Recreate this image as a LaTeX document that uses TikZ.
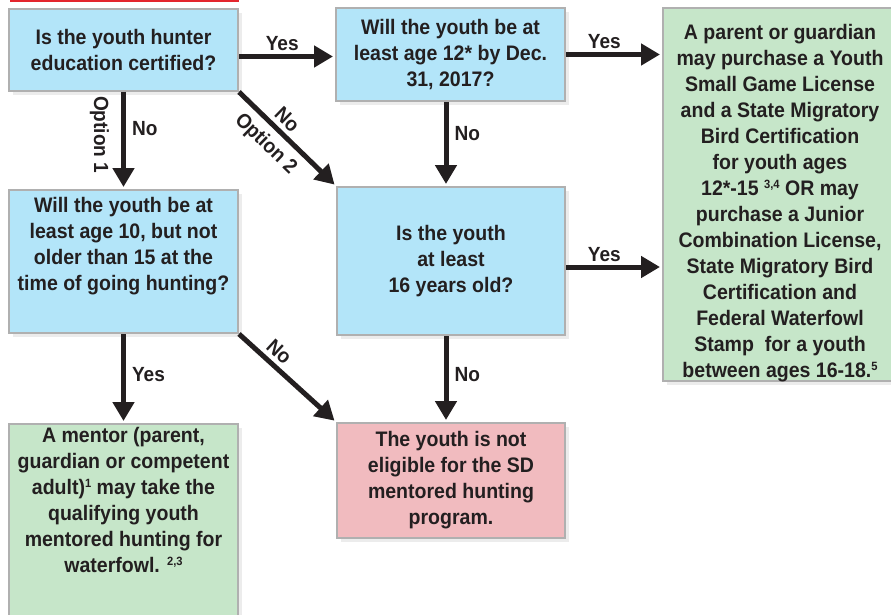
\documentclass[tikz,border=0pt]{standalone}
\usepackage{fontspec}
\newfontfamily\chartfont[FakeStretch=0.93]{Liberation Sans}
\usetikzlibrary{arrows.meta,shadows}
\definecolor{qblue}{HTML}{B3E5F9}
\definecolor{okgreen}{HTML}{C6E6C9}
\definecolor{nored}{HTML}{F1BBBF}
\definecolor{edge}{HTML}{B0B0B0}
\definecolor{ink}{HTML}{231F20}
\definecolor{topred}{HTML}{E3262D}
\newcommand{\supnum}[1]{\raisebox{7pt}{\fontsize{12}{12}\selectfont #1}}
\tikzset{
  box/.style={draw=edge, line width=2pt, inner sep=0pt,
    drop shadow={opacity=0.15, shadow xshift=4pt, shadow yshift=-4pt}},
  txt/.style={align=center, inner sep=0pt, text=ink,
    font=\chartfont\bfseries\fontsize{21}{26}\selectfont},
  flow/.style={draw=ink, line width=5pt, -{Triangle[length=19pt,width=21pt]}, shorten >=2pt},
  lbl/.style={text=ink, inner sep=2pt, font=\chartfont\bfseries\fontsize{20.5}{24}\selectfont}
}
\begin{document}
\begin{tikzpicture}[x=1pt,y=-1pt]
  \useasboundingbox (0,0) rectangle (891,615);
  \draw[topred, line width=2.5pt] (10,1) -- (239,1);

  \node[box, txt, fill=qblue, minimum width=229, minimum height=82] (a) at (123.5,50)
    {Is the youth hunter\\education certified?};
  \node[box, txt, fill=qblue, minimum width=229, minimum height=93] (b) at (450.5,54.5)
    {Will the youth be at\\least age 12* by Dec.\\31, 2017?};
  \node[box, fill=okgreen, minimum width=234, minimum height=373] (c) at (780,194.5) {};
  \node[txt, anchor=north] (ctext) at (780,24)
    {A parent or guardian\\may purchase a Youth\\Small Game License\\and a State Migratory\\
     Bird Certification\\for youth ages\\12*-15 \supnum{3,4} OR may\\purchase a Junior\\
     Combination License,\\State Migratory Bird\\Certification and\\Federal Waterfowl\\
     Stamp~ for a youth\\between ages 16-18.\supnum{5}};
  \node[box, fill=qblue, minimum width=229, minimum height=143] (d) at (123.5,261.5) {};
  \node[txt, anchor=north] (dtext) at (123.5,197)
    {Will the youth be at\\least age 10, but not\\older than 15 at the\\time of going hunting?};
  \node[box, txt, fill=qblue, minimum width=228, minimum height=148] (e) at (451,261)
    {Is the youth\\at least\\16 years old?};
  \node[box, fill=okgreen, minimum width=229, minimum height=216] (f) at (123.5,532) {};
  \node[txt, anchor=north] (ftext) at (123.5,427)
    {A mentor (parent,\\guardian or competent\\adult)\supnum{1} may take the\\qualifying youth\\
     mentored hunting for\\waterfowl. \supnum{2,3}};
  \node[box, txt, fill=nored, minimum width=228, minimum height=115] (g) at (451,480.5)
    {The youth is not\\eligible for the SD\\mentored hunting\\program.};

  \draw[flow] ([yshift=-6.5pt]a.east) -- ([yshift=-6.5pt]a.east -| b.west)
    node[lbl, above=1pt, pos=0.45] {Yes};
  \draw[flow] (b.east) -- (b.east -| c.west)
    node[lbl, above=1pt, pos=0.4] {Yes};
  \draw[flow] (a.south) -- (d.north)
    node[lbl, right=4pt, pos=0.38] {No}
    node[lbl, sloped, below=10pt, pos=0.44] {Option 1};
  \draw[flow] (a.south east) -- (e.north west)
    node[lbl, sloped, above=2pt, pos=0.4] {No}
    node[lbl, sloped, below=5pt, pos=0.41] {Option 2};
  \draw[flow] ([xshift=-4.5pt]b.south) -- ([xshift=-4.5pt]b.south |- e.north)
    node[lbl, right=4pt, pos=0.38] {No};
  \draw[flow] ([yshift=-6pt]e.east) -- ([yshift=-6pt]e.east -| c.west)
    node[lbl, above=1pt, pos=0.4] {Yes};
  \draw[flow] (d.south) -- (f.north)
    node[lbl, right=4pt, pos=0.45] {Yes};
  \draw[flow] (d.south east) -- (g.north west)
    node[lbl, sloped, above=2pt, pos=0.32] {No};
  \draw[flow] ([xshift=-5pt]e.south) -- ([xshift=-5pt]e.south |- g.north)
    node[lbl, right=4pt, pos=0.45] {No};
\end{tikzpicture}
\end{document}
